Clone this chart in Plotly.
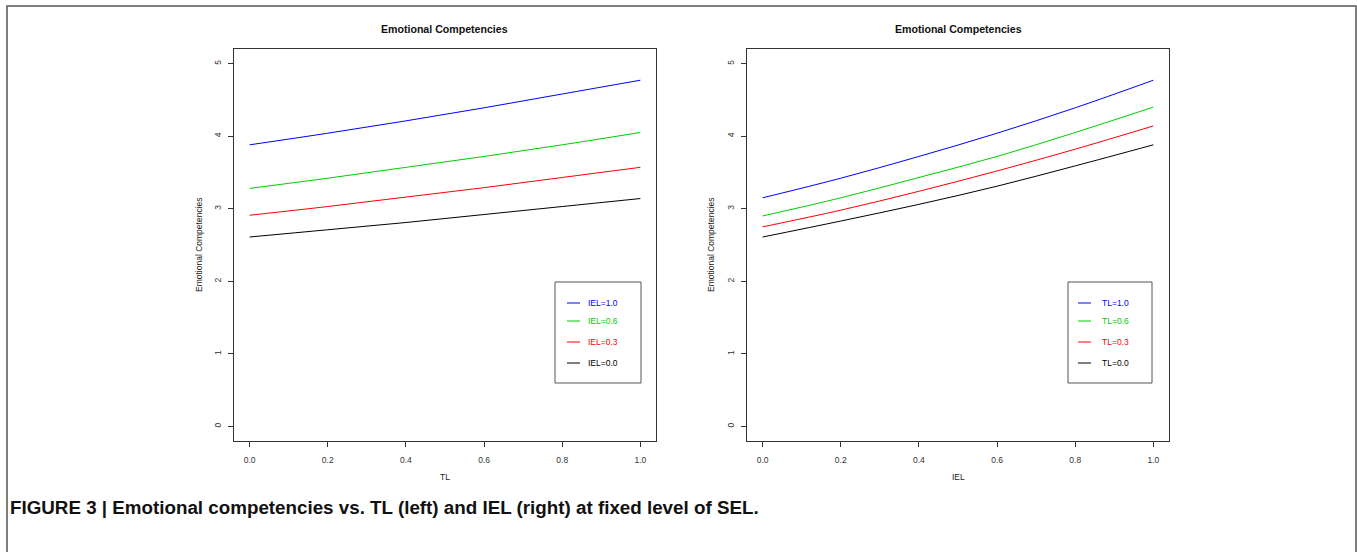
import plotly.graph_objects as go

W, H = 1357, 552

# ---------------- data ----------------
x_vals = [0.0, 0.2, 0.4, 0.6, 0.8, 1.0]

# Left panel: Emotional Competencies vs TL at fixed IEL
left_labels = ["IEL=1.0", "IEL=0.6", "IEL=0.3", "IEL=0.0"]
left_iel_10 = [3.88, 4.04, 4.21, 4.39, 4.58, 4.77]
left_iel_06 = [3.28, 3.42, 3.57, 3.72, 3.88, 4.05]
left_iel_03 = [2.91, 3.03, 3.16, 3.29, 3.43, 3.57]
left_iel_00 = [2.61, 2.71, 2.81, 2.92, 3.03, 3.14]

# Right panel: Emotional Competencies vs IEL at fixed TL
right_labels = ["TL=1.0", "TL=0.6", "TL=0.3", "TL=0.0"]
right_tl_10 = [3.15, 3.42, 3.72, 4.04, 4.39, 4.77]
right_tl_06 = [2.90, 3.15, 3.43, 3.72, 4.05, 4.40]
right_tl_03 = [2.75, 2.98, 3.24, 3.52, 3.82, 4.14]
right_tl_00 = [2.61, 2.83, 3.06, 3.31, 3.59, 3.88]

y_ticks = [0, 1, 2, 3, 4, 5]
x_ticks = [0.0, 0.2, 0.4, 0.6, 0.8, 1.0]
x_tick_text = ["0.0", "0.2", "0.4", "0.6", "0.8", "1.0"]

colors = ["#0000FF", "#00CD00", "#FF0000", "#000000"]

panel_title = "Emotional Competencies"
y_title = "Emotional Competencies"
caption = "FIGURE 3 | Emotional competencies vs. TL (left) and IEL (right) at fixed level of SEL."

# ---------------- figure ----------------
def px(x):
    return x / W

def py(y):
    return 1 - y / H

FONT = "Liberation Sans, Arial, Helvetica, sans-serif"
fig = go.Figure()

left_series = [left_iel_10, left_iel_06, left_iel_03, left_iel_00]
right_series = [right_tl_10, right_tl_06, right_tl_03, right_tl_00]

for vals, lab, c in zip(left_series, left_labels, colors):
    fig.add_trace(go.Scatter(x=x_vals, y=vals, mode="lines", name=lab,
                             line=dict(color=c, width=1, shape="spline"),
                             xaxis="x", yaxis="y", showlegend=False))
for vals, lab, c in zip(right_series, right_labels, colors):
    fig.add_trace(go.Scatter(x=x_vals, y=vals, mode="lines", name=lab,
                             line=dict(color=c, width=1, shape="spline"),
                             xaxis="x2", yaxis="y2", showlegend=False))

axis_common = dict(showline=True, mirror=True, linecolor="#333333", linewidth=1,
                   ticks="outside", ticklen=5, tickcolor="#333333", tickwidth=1,
                   showgrid=False, zeroline=False,
                   tickfont=dict(family=FONT, size=8.5, color="#333333"))

y_dom = [py(441), py(49)]
fig.update_layout(
    width=W, height=H, autosize=False,
    margin=dict(l=0, r=0, t=0, b=0),
    paper_bgcolor="white", plot_bgcolor="white",
    xaxis=dict(domain=[px(234), px(656)], range=[-0.04, 1.04],
               tickvals=x_ticks, ticktext=x_tick_text, anchor="y",
               ticklabelstandoff=6, **axis_common),
    yaxis=dict(domain=y_dom, range=[-0.2, 5.2], tickvals=y_ticks,
               tickangle=-90, anchor="x", ticklabelstandoff=4, **axis_common),
    xaxis2=dict(domain=[px(747), px(1169)], range=[-0.04, 1.04],
                tickvals=x_ticks, ticktext=x_tick_text, anchor="y2",
                ticklabelstandoff=6, **axis_common),
    yaxis2=dict(domain=y_dom, range=[-0.2, 5.2], tickvals=y_ticks,
                tickangle=-90, anchor="x2", ticklabelstandoff=4, **axis_common),
)

ann = []
shapes = []

# panel titles, axis titles
for cx, xl in [(445, "TL"), (958, "IEL")]:
    ann.append(dict(x=px(cx), y=py(29), xref="paper", yref="paper", text="<b>%s</b>" % panel_title,
                    showarrow=False, font=dict(family=FONT, size=10.6, color="#111111"),
                    xanchor="center", yanchor="middle"))
    ann.append(dict(x=px(cx), y=py(477), xref="paper", yref="paper", text=xl,
                    showarrow=False, font=dict(family=FONT, size=8.5, color="#222222"),
                    xanchor="center", yanchor="middle"))
for cx in [199, 711]:
    ann.append(dict(x=px(cx), y=py(245), xref="paper", yref="paper", text=y_title,
                    textangle=-90, showarrow=False,
                    font=dict(family=FONT, size=8.5, color="#222222"),
                    xanchor="center", yanchor="middle"))

# legends (drawn manually)
legend_rows = [303, 321, 342, 363]
for (bx0, bx1, lx0, lx1, tx, labels) in [
        (555, 641, 567, 580, 586, left_labels),
        (1068, 1152, 1078, 1091, 1100, right_labels)]:
    shapes.append(dict(type="rect", xref="paper", yref="paper",
                       x0=px(bx0), x1=px(bx1), y0=py(383), y1=py(282),
                       line=dict(color="#555555", width=1), fillcolor="white", layer="above"))
    for ry, lab, c in zip(legend_rows, labels, colors):
        shapes.append(dict(type="line", xref="paper", yref="paper",
                           x0=px(lx0), x1=px(lx1), y0=py(ry), y1=py(ry),
                           line=dict(color=c, width=1), layer="above"))
        ann.append(dict(x=px(tx), y=py(ry), xref="paper", yref="paper", text=lab,
                        showarrow=False, font=dict(family=FONT, size=8.5, color=c),
                        xanchor="left", yanchor="middle"))

# caption
ann.append(dict(x=px(8), y=py(507), xref="paper", yref="paper", text="<b>%s</b>" % caption,
                showarrow=False, font=dict(family=FONT, size=18.8, color="#111111"),
                xanchor="left", yanchor="middle"))

# outer frame (open at bottom)
shapes.append(dict(type="path", xref="paper", yref="paper",
                   path="M %f,%f L %f,%f L %f,%f L %f,%f" % (px(7), py(552), px(7), py(6),
                                                           px(1356), py(6), px(1356), py(552)),
                   line=dict(color="#555555", width=1.5)))

fig.update_layout(annotations=ann, shapes=shapes)
fig.write_html("out.html", config={"displayModeBar": False},
               post_script="document.body.style.margin='0px';document.body.style.overflow='hidden';")
